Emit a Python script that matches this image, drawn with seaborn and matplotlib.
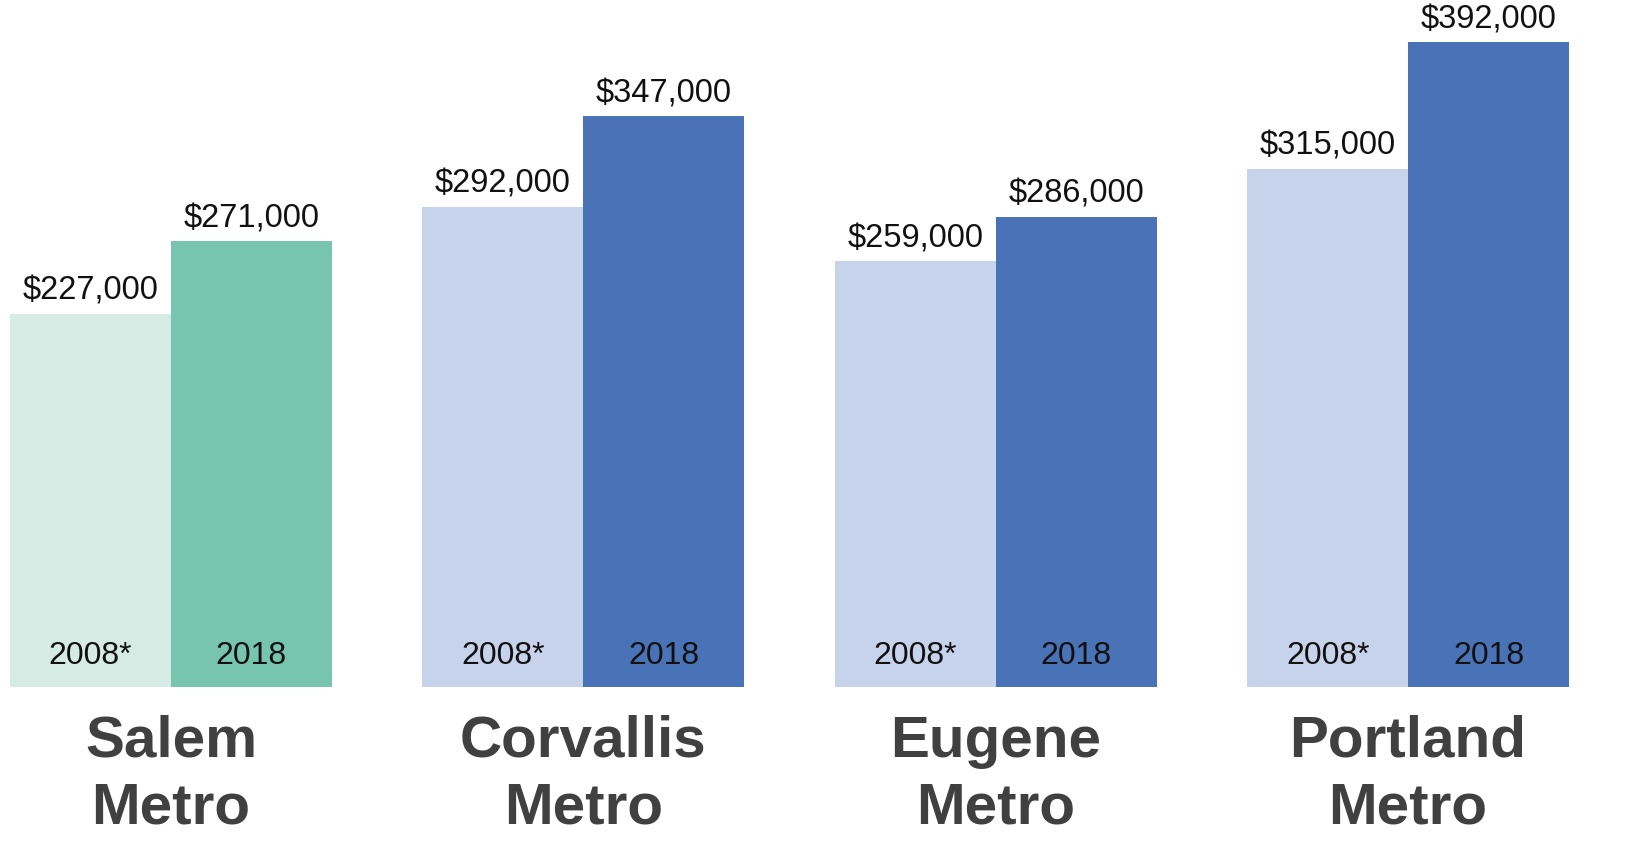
import pandas as pd
import numpy as np
import matplotlib.pyplot as plt
import seaborn as sns

# Data
metros = ["Salem\nMetro", "Corvallis\nMetro", "Eugene\nMetro", "Portland\nMetro"]
years = ["2008*", "2018"]
values_2008 = [227000, 292000, 259000, 315000]
values_2018 = [271000, 347000, 286000, 392000]

data = pd.DataFrame({
    "metro": metros * 2,
    "year": [years[0]] * 4 + [years[1]] * 4,
    "value": values_2008 + values_2018,
})

# Colours
blue_light = "#c7d3ea"
blue_dark = "#4a72b7"
green_light = "#d5ebe4"
green_dark = "#78c5ae"

sns.set_style("white")
plt.rcParams["font.family"] = ["Liberation Sans", "DejaVu Sans"]

fig = plt.figure(figsize=(16.46, 8.67), dpi=100)
ax = fig.add_axes([6 / 1646, 180 / 867, 1567 / 1646, 658 / 867])

sns.barplot(data=data, x="metro", y="value", hue="year", order=metros,
            hue_order=years, palette=[blue_light, blue_dark], width=0.78,
            saturation=1, legend=False, linewidth=0, ax=ax)

# Salem gets the green pair
ax.containers[0][0].set_facecolor(green_light)
ax.containers[1][0].set_facecolor(green_dark)

# Value labels on top, year labels inside the bars
for yr, cont in zip(years, ax.containers):
    ax.bar_label(cont, labels=[f"${v:,.0f}" for v in cont.datavalues],
                 padding=5, fontsize=23.5, color="#111111")
    for bar in cont:
        ax.text(bar.get_x() + bar.get_width() / 2, 9500, yr,
                ha="center", va="bottom", fontsize=23, color="#111111")

ax.set_xlim(-0.4, 3.4)
ax.set_ylim(0, 400000)
ax.set_xlabel("")
ax.set_ylabel("")
ax.set_yticks([])
ax.tick_params(axis="x", length=0, pad=20)
for lbl in ax.get_xticklabels():
    lbl.set_fontsize(42)
    lbl.set_fontweight("bold")
    lbl.set_color("#404040")
    lbl.set_linespacing(1.3)
sns.despine(ax=ax, left=True, bottom=True)

fig.savefig("out.png", dpi=100)
